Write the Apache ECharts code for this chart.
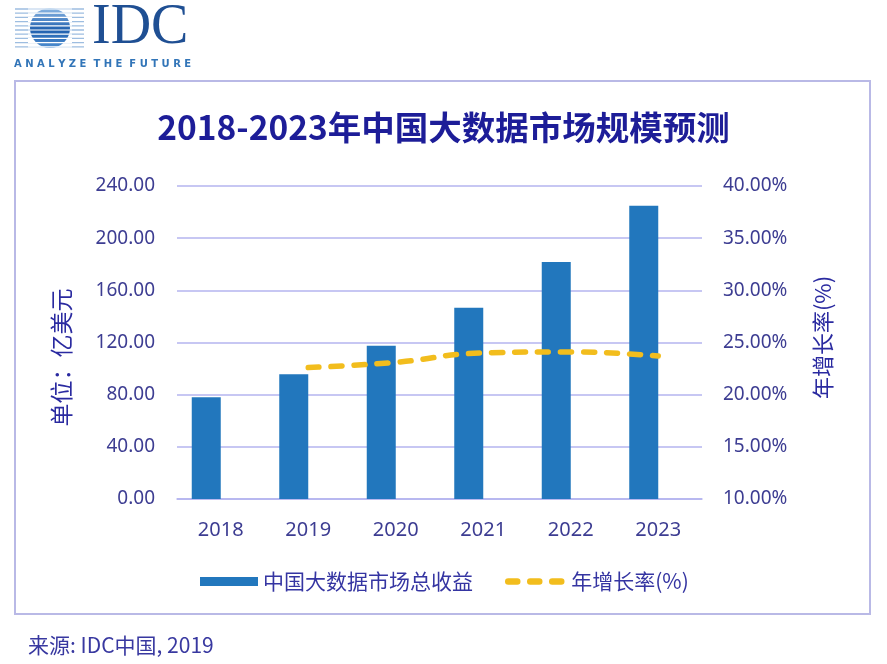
<!DOCTYPE html>
<html>
<head>
<meta charset="utf-8">
<script src="https://cdn.jsdelivr.net/npm/echarts@6/dist/echarts.min.js"></script>
<style>
  html, body { margin: 0; padding: 0; background: #ffffff; }
  #chart { width: 887px; height: 664px; }
</style>
</head>
<body>
<div id="chart"></div>
<script>
const years = ['2018', '2019', '2020', '2021', '2022', '2023'];
const revenue = [78.0, 95.6, 117.6, 146.7, 181.7, 224.9];
const growth = ['-', 22.6, 23.1, 24.0, 24.1, 23.7];
const leftTicks = { min: 0, max: 240, interval: 40 };
const rightTicks = { min: 10, max: 40, interval: 5 };

const titleText = '2018-2023年中国大数据市场规模预测';
const barName = '中国大数据市场总收益';
const lineName = '年增长率(%)';
const leftAxisName = '单位：亿美元';
const sourceText = '来源: IDC中国, 2019';

const cjk = '"Noto Sans CJK SC", "Noto Sans", sans-serif';
const num = '"Noto Sans", "Open Sans", "Noto Sans CJK SC", sans-serif';
const labelColor = '#3d3d92';
const gridColor = '#b4b4ef';

const chart = echarts.init(document.getElementById('chart'));

// IDC logo pieces (decoration)
const logoLines = [];
for (let i = 0; i < 10; i++) {
  const y = 9 + i * 4.2;
  logoLines.push({ type: 'line', shape: { x1: 15, y1: y, x2: 84, y2: y },
    style: { stroke: '#9dbde0', lineWidth: 1.3 }, z: 1 });
}
const sphereWhite = [];
for (let i = 0; i < 10; i++) {
  const y = 9 + i * 4.2;
  sphereWhite.push({ type: 'line', shape: { x1: 28, y1: y, x2: 72, y2: y },
    style: { stroke: '#ffffff', lineWidth: 1.2 }, z: 3 });
}

chart.setOption({
  backgroundColor: '#ffffff',
  animation: false,
  title: {
    text: titleText,
    left: 'center',
    top: 106,
    textStyle: { fontFamily: cjk, fontSize: 33.5, fontWeight: 'bold', color: '#1d1d98' }
  },
  legend: {
    data: [
      { name: barName, icon: 'rect' },
      { name: lineName, itemStyle: { opacity: 0 },
        lineStyle: { width: 6.5, type: [9, 13], cap: 'round', color: '#f2bd1d' } }
    ],
    left: 195,
    top: 566,
    itemWidth: 58,
    itemHeight: 9,
    itemGap: 32,
    textStyle: { fontFamily: cjk, fontSize: 21, color: '#3535a2' }
  },
  grid: { left: 177, right: 185, top: 186, bottom: 165, containLabel: false },
  xAxis: {
    type: 'category',
    data: years,
    boundaryGap: true,
    axisLine: { show: true, lineStyle: { color: gridColor, width: 1.5 } },
    axisTick: { show: false },
    axisLabel: { margin: 21, fontFamily: num, fontSize: 20, color: labelColor }
  },
  yAxis: [
    {
      type: 'value',
      min: leftTicks.min, max: leftTicks.max, interval: leftTicks.interval,
      name: leftAxisName,
      nameLocation: 'middle',
      nameRotate: 90,
      nameGap: 104,
      nameTextStyle: { fontFamily: cjk, fontSize: 23, color: '#2a2aa0', padding: [0, 30, 0, 0] },
      axisLine: { show: false },
      axisTick: { show: false },
      axisLabel: { margin: 22, fontFamily: num, fontSize: 19, color: labelColor,
        formatter: v => v.toFixed(2) },
      splitLine: { show: true, lineStyle: { color: gridColor, width: 1.5 } }
    },
    {
      type: 'value',
      min: rightTicks.min, max: rightTicks.max, interval: rightTicks.interval,
      name: lineName,
      nameLocation: 'middle',
      nameRotate: 90,
      nameGap: 110,
      nameTextStyle: { fontFamily: cjk, fontSize: 22, color: '#2a2aa0', padding: [0, 0, 0, 10] },
      axisLine: { show: false },
      axisTick: { show: false },
      axisLabel: { margin: 21, fontFamily: num, fontSize: 19, color: labelColor,
        formatter: v => v.toFixed(2) + '%' },
      splitLine: { show: false }
    }
  ],
  series: [
    {
      name: barName,
      type: 'bar',
      yAxisIndex: 0,
      data: revenue,
      barWidth: 29,
      barGap: '0%',
      itemStyle: { color: '#2277bd' },
      z: 2
    },
    {
      name: 'spacer',
      type: 'bar',
      yAxisIndex: 0,
      data: [],
      barWidth: 29,
      barGap: '0%'
    },
    {
      name: lineName,
      type: 'line',
      yAxisIndex: 1,
      data: growth,
      smooth: true,
      showSymbol: false,
      symbol: 'none',
      lineStyle: { color: '#f2bd1d', width: 5.5, type: [11, 12], cap: 'round' },
      itemStyle: { color: '#f2bd1d' },
      z: 5
    }
  ],
  graphic: [
    { type: 'rect', shape: { x: 15, y: 81, width: 855, height: 533 },
      style: { fill: 'none', stroke: '#b9b9e6', lineWidth: 2 }, z: 0 },
    ...logoLines,
    { type: 'circle', shape: { cx: 50, cy: 28, r: 20 },
      style: { fill: new echarts.graphic.LinearGradient(0, 0, 0, 1, [
        { offset: 0, color: '#8db8e4' },
        { offset: 0.55, color: '#1f5fae' },
        { offset: 1, color: '#4f8fd0' }
      ]) }, z: 2 },
    ...sphereWhite,
    { type: 'text', left: 92, top: 0,
      style: { text: 'IDC', font: '56px "Liberation Serif", "DejaVu Serif", serif', fill: '#1f4f93' }, z: 4 },
    { type: 'text', left: 14, top: 59,
      style: { text: 'A N A L Y Z E  T H E  F U T U R E', font: 'bold 10px "DejaVu Sans", sans-serif', fill: '#3275b8' }, z: 4 },
    { type: 'text', left: 28, top: 635,
      style: { text: sourceText, font: '21px "Noto Sans CJK SC", "Noto Sans", sans-serif', fill: '#3838a0' }, z: 4 }
  ]
});
</script>
</body>
</html>
